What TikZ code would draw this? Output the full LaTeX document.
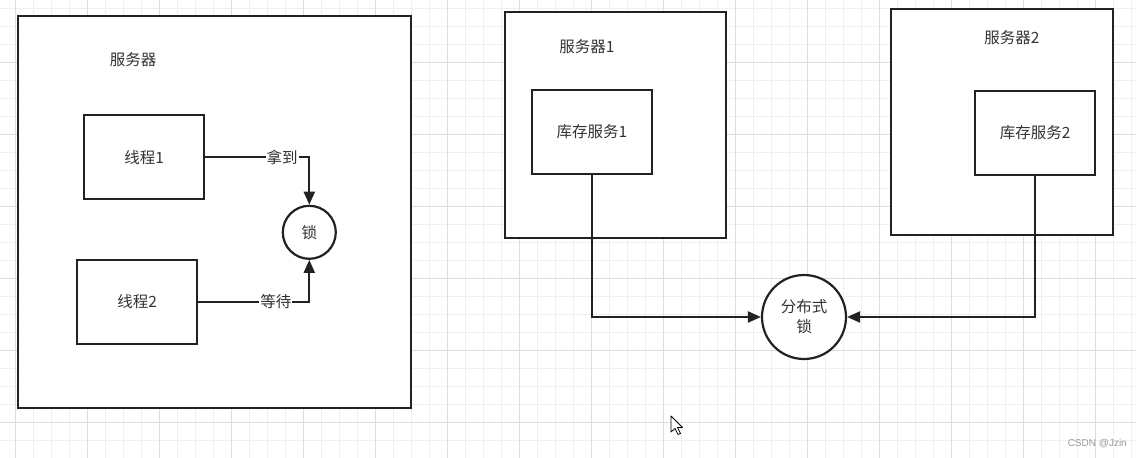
\documentclass[tikz,border=0pt]{standalone}
\usepackage{fontspec}
\newfontfamily\cjk{Noto Sans CJK SC}
\usetikzlibrary{arrows.meta}
\definecolor{ink}{HTML}{222222}
\definecolor{txt}{HTML}{333333}
\definecolor{gminor}{HTML}{EFEFEF}
\definecolor{gmajor}{HTML}{DDDDDD}
\tikzset{
  box/.style={draw=ink, line width=2.2pt, fill=white, inner sep=0pt, anchor=north west},
  lbl/.style={font=\cjk\fontsize{15.5}{20}\selectfont, text=txt, inner sep=1pt},
  lockc/.style={draw=ink, line width=2.2pt, fill=white, circle, inner sep=0pt},
  arr/.style={draw=ink, line width=2.2pt, -{Triangle[length=13pt,width=11pt]}},
  elbl/.style={lbl, fill=white, inner sep=1pt},
}
\begin{document}
\begin{tikzpicture}[x=1pt,y=-1pt]
\useasboundingbox (0,0) rectangle (1136,458);
\fill[white] (0,0) rectangle (1136,458);
% grid
\foreach \i in {0,...,62} \draw[gminor, line width=0.8pt] (15.3+18*\i,0) -- (15.3+18*\i,458);
\foreach \i in {0,...,25} \draw[gminor, line width=0.8pt] (0,8+18*\i) -- (1136,8+18*\i);
\foreach \i in {0,...,15} \draw[gmajor, line width=0.8pt] (15.3+72*\i,0) -- (15.3+72*\i,458);
\foreach \i in {0,...,6} \draw[gmajor, line width=0.8pt] (0,-10+72*\i) -- (1136,-10+72*\i);

% left server
\node[box, minimum width=393pt, minimum height=392pt] (srv) at (17,15) {};
\node[lbl] (srvl) at (133,60) {服务器};
\node[box, minimum width=120pt, minimum height=84pt] (t1) at (83,114) {};
\node[lbl] at (t1.center) {线程1};
\node[box, minimum width=120pt, minimum height=84pt] (t2) at (76,258.5) {};
\node[lbl] at (t2.center) {线程2};
\node[lockc, minimum size=53pt] (lock) at (309.3,232.3) {};
\node[lbl] at (lock.center) {锁};
\draw[arr] (t1.east) -| (lock.north) node[elbl, pos=0.37] {拿到};
\draw[arr] (t2.east) -| (lock.south) node[elbl, pos=0.35] {等待};

% right: server 1
\node[box, minimum width=221pt, minimum height=226pt] (s1) at (504,10.5) {};
\node[lbl] (s1l) at (587,47) {服务器1};
\node[box, minimum width=120.5pt, minimum height=84.5pt] (inv1) at (530.6,88.7) {};
\node[lbl] at (inv1.center) {库存服务1};

% server 2
\node[box, minimum width=221.5pt, minimum height=226.5pt] (s2) at (890,7.7) {};
\node[lbl] (s2l) at (1012,38) {服务器2};
\node[box, minimum width=120pt, minimum height=84pt] (inv2) at (974,89.7) {};
\node[lbl] at (inv2.center) {库存服务2};

% distributed lock
\node[lockc, minimum size=84pt] (dlock) at (804,317) {};
\node[lbl, align=center] at (dlock.center) {分布式\\锁};
\draw[arr] (inv1.south) |- (dlock.west);
\draw[arr] (inv2.south) |- (dlock.east);

% mouse cursor
\draw[black, line width=0.8pt, fill=white, line join=round]
  (671,416) -- (671,432) -- (675,428.5) -- (678,434.5) -- (680.5,433.5) -- (677.5,427.5) -- (682.5,427.5) -- cycle;

% watermark
\node[font=\fontspec{Liberation Sans}\fontsize{10}{11}\selectfont, text=gray!80, anchor=east, inner sep=0pt] (wm) at (1127,444) {CSDN @Jzin};
\end{tikzpicture}
\end{document}
